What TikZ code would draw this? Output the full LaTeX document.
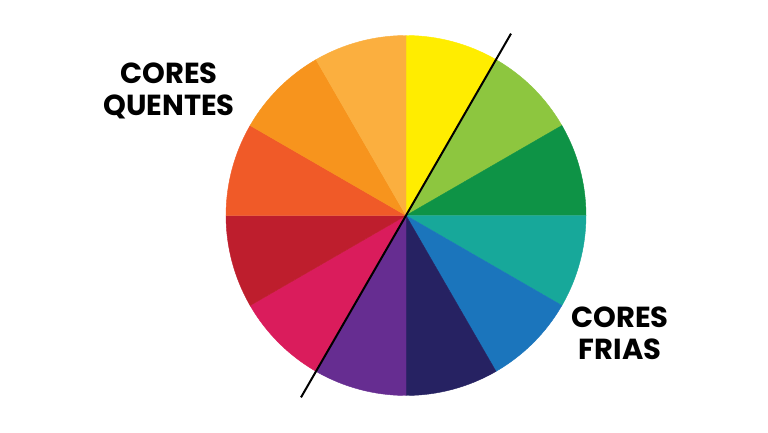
\documentclass[tikz,border=0pt]{standalone}
\usepackage{fontspec}
\setmainfont{Poppins}[BoldFont={* Bold}]
\usetikzlibrary{positioning}

\definecolor{cyellow}{HTML}{FFED00}
\definecolor{cyellowgreen}{HTML}{8DC63F}
\definecolor{cgreen}{HTML}{0E9346}
\definecolor{cteal}{HTML}{17A89A}
\definecolor{cblue}{HTML}{1B75BC}
\definecolor{cnavy}{HTML}{262262}
\definecolor{cpurple}{HTML}{662D91}
\definecolor{cmagenta}{HTML}{DA1C5C}
\definecolor{cred}{HTML}{BE1E2D}
\definecolor{credorange}{HTML}{F05A28}
\definecolor{corange}{HTML}{F7941D}
\definecolor{clightorange}{HTML}{FBAF3F}

\begin{document}
\begin{tikzpicture}[
  x=1pt, y=1pt,
  label/.style={font=\bfseries\fontsize{29}{32}\selectfont, align=center, inner sep=0pt},
  divider/.style={draw, line width=2pt, black}
]
\useasboundingbox (0,0) rectangle (768,432);
\coordinate (c) at (406,216.5);
% wedges, clockwise from the top
\foreach \col [count=\i] in {cyellow,cyellowgreen,cgreen,cteal,cblue,cnavy,
                             cpurple,cmagenta,cred,credorange,corange,clightorange}
  \filldraw[\col, line width=0.4pt] (c) -- ++({120-30*\i}:180)
    arc[start angle={120-30*\i}, end angle={90-30*\i}, radius=180] -- cycle;
% the dividing line
\coordinate (top) at ([shift={(60:210)}]c);
\coordinate (bottom) at ([shift={(240:210)}]c);
\draw[divider] (bottom) -- (top);
\node[label] (warm) at (169,341) {CORES\\QUENTES};
\node[label] (cool) at (620,99) {CORES\\FRIAS};
\end{tikzpicture}
\end{document}
